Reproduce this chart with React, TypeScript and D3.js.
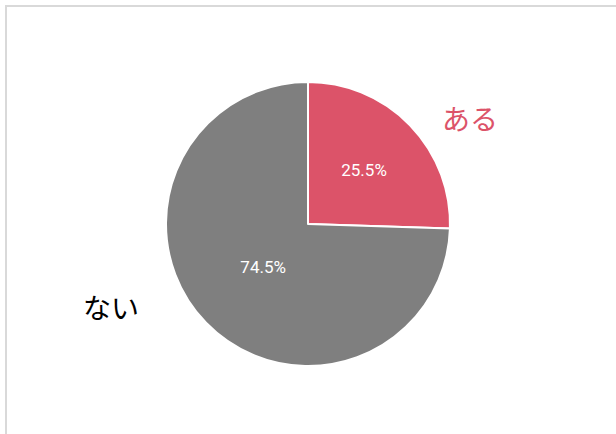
import React from "react";
import * as d3 from "d3";

const categories = ["ある", "ない"];
const values = [25.5, 74.5];
const colors = ["#DC5369", "#7F7F7F"];
const labelColors = ["#DC5369", "#000000"];
// label radius as fraction of pie radius (inside percent labels)
const pctRadius = [0.55, 0.44];
// outside category label radius / angle positions relative to slice mid-angle
const catRadius = [1.5, 1.42];

export default function App() {
  const W = 616, H = 434;
  const cx = 308, cy = 224, r = 142;
  const pie = d3.pie<number>().sort(null).value((d) => d)(values);
  const arc = d3.arc<d3.PieArcDatum<number>>().innerRadius(0).outerRadius(r);
  const pos = (a: number, rad: number) => [Math.sin(a) * rad, -Math.cos(a) * rad];
  // outside label positions
  const outerPos = [
    [470 - cx, 118 - cy],
    [111 - cx, 307 - cy],
  ];
  return (
    <svg width={W} height={H} style={{ position: "absolute", left: 0, top: 0 }}>
      <rect x={0} y={0} width={W} height={H} fill="#fff" />
      <rect x={6} y={6} width={W + 10} height={H + 10} fill="none" stroke="#D9D9D9" strokeWidth={2} />
      <g transform={`translate(${cx},${cy})`}>
        {pie.map((p, i) => (
          <path key={i} d={arc(p) || ""} fill={colors[i]} stroke="#fff" strokeWidth={2} strokeLinejoin="round" />
        ))}
        {pie.map((p, i) => {
          const mid = (p.startAngle + p.endAngle) / 2;
          const [x, y] = pos(mid, r * pctRadius[i]);
          return (
            <text key={"p" + i} x={x} y={y} textAnchor="middle" dominantBaseline="central"
              fill="#fff" fontFamily="Roboto, sans-serif" fontSize={17}>
              {`${values[i].toFixed(1)}%`}
            </text>
          );
        })}
        {pie.map((p, i) => (
          <text key={"c" + i} x={outerPos[i][0]} y={outerPos[i][1]} textAnchor="middle" dominantBaseline="central"
            fill={labelColors[i]} fontFamily="'Noto Sans CJK JP', sans-serif" fontSize={28}>
            {categories[i]}
          </text>
        ))}
      </g>
    </svg>
  );
}
